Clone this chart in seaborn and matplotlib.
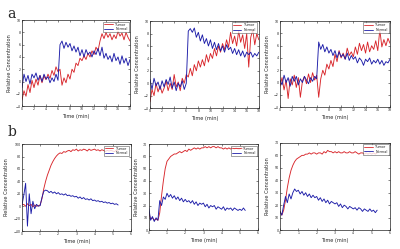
import numpy as np
import pandas as pd
import matplotlib
matplotlib.use("Agg")
import matplotlib.pyplot as plt
import seaborn as sns

# ---------------- data ----------------
# Row a: time 0..18 min (step 1/3 min)
time_a = np.round(np.arange(55) / 3.0, 3)

a1_tumor = [-3.0, -1.5, -2.4, -0.5, -1.8, 0.2, -1.0,
            0.4, -0.6, 1.0, -0.2, 0.9, 0.3,
            1.2, 0.5, 1.8, 1.0, 2.4, 1.6,
            2.0, -0.6, 0.6, -0.2, 1.2, 0.4,
            2.0, 1.5, 3.0, 2.6, 3.8, 3.4,
            4.2, 3.6, 4.6, 4.0, 5.0, 4.4,
            5.6, 5.0, 6.6, 7.8, 7.0, 8.0,
            7.2, 7.8, 6.8, 7.6, 7.0, 8.2,
            7.4, 7.9, 6.8, 8.0, 7.2, 6.6]
a1_normal = [-1.0, 1.2, 0.0, 1.0, -0.4, 1.2, 0.6,
             1.4, 0.2, 1.0, 0.0, 1.2, 0.4,
             0.8, -0.2, 0.6, 0.0, 1.2, 0.2,
             6.0, 6.6, 5.4, 6.4, 5.6, 6.2,
             5.0, 5.8, 4.8, 5.6, 4.2, 5.2,
             4.0, 5.2, 4.4, 4.8, 4.0, 5.0,
             4.4, 5.4, 4.2, 5.6, 3.8, 4.6,
             3.6, 4.2, 3.2, 4.6, 3.4, 4.0,
             2.8, 4.2, 3.0, 3.8, 2.6, 3.6]

a2_tumor = [-3.0, -1.0, -2.0, 0.0, -1.4, -0.4, -1.6,
            -0.8, 0.4, -1.2, 0.0, -1.0, 1.4,
            -0.6, 0.2, -1.2, 0.8, 0.0, 1.4,
            1.0, 2.4, 1.2, 3.0, 2.0, 3.6,
            2.6, 3.8, 2.8, 4.6, 3.4, 4.8,
            4.0, 5.6, 4.4, 6.0, 5.0, 6.4,
            5.4, 7.0, 5.8, 8.2, 6.4, 7.6,
            6.0, 8.4, 6.6, 7.8, 5.6, 8.0,
            2.6, 7.4, 8.6, 6.2, 8.0, 7.0]
a2_normal = [0.6, -1.0, 0.8, -0.4, 0.2, -1.0, 0.4,
             -0.6, 0.6, -0.2, 1.0, -0.8, 0.2,
             -1.2, 0.0, -0.6, 0.4, -1.0, 0.0,
             8.4, 8.8, 8.2, 8.9, 7.4, 8.2,
             6.8, 7.8, 6.4, 7.2, 6.0, 7.0,
             5.6, 6.6, 5.4, 6.4, 5.2, 6.0,
             5.0, 6.2, 5.4, 5.8, 4.8, 5.6,
             4.6, 5.4, 4.4, 5.2, 4.2, 5.0,
             4.6, 5.0, 4.2, 4.8, 4.4, 5.0]

a3_tumor = [-0.6, 0.8, -1.2, 0.4, -2.6, 0.6, -0.4,
            1.2, -0.8, 0.8, -2.4, 0.2, 1.0,
            -0.2, 1.4, 0.0, 1.6, 0.4, 1.2,
            -2.4, 0.6, 2.0, 1.2, 3.0, 2.2,
            3.6, 2.6, 4.6, 3.4, 5.2, 4.0,
            4.8, 3.8, 5.6, 4.4, 5.0, 4.2,
            5.8, 4.6, 6.4, 5.2, 6.2, 4.8,
            6.6, 5.0, 6.0, 5.4, 6.8, 5.2,
            8.6, 5.8, 7.0, 6.0, 7.2, 6.4]
a3_normal = [0.4, -0.4, 1.2, 0.0, 0.8, -0.6, 1.0,
             0.2, 1.0, -0.4, 0.6, 0.0, 1.0,
             0.4, -0.2, 0.8, 0.2, 1.0, 0.6,
             6.6, 5.4, 6.2, 5.0, 5.8, 4.8,
             5.4, 4.4, 5.2, 4.0, 5.0, 4.2,
             4.6, 3.8, 4.8, 3.6, 4.4, 3.8,
             4.2, 3.2, 4.0, 3.6, 2.8, 3.8,
             3.4, 4.0, 3.0, 3.6, 3.2, 3.8,
             3.0, 3.6, 2.8, 3.4, 3.2, 3.8]

# Row b: time 0..5.3 min (step 0.1 min)
time_b = np.round(np.arange(54) * 0.1, 2)

b1_tumor = [2, 3, 0, 4, 1, 3, -1, 2, 0, 1,
            2, 12, 28, 40, 50, 58, 66, 72, 77, 81,
            84, 86, 85, 88, 87, 89, 90, 88, 91, 90,
            92, 89, 91, 90, 92, 91, 89, 92, 90, 91,
            92, 90, 91, 89, 91, 90, 88, 90, 89, 90,
            89, 88, 90, 89]
b1_normal = [2, 18, 37, -32, 20, -12, 8, -4, 3, 0,
             1, 14, 24, 26, 25, 22, 24, 21, 23, 20,
             22, 19, 20, 18, 20, 17, 18, 16, 17, 15,
             16, 13, 15, 12, 14, 11, 12, 10, 12, 9,
             10, 8, 9, 7, 8, 6, 7, 5, 6, 4,
             5, 3, 4, 2]

b2_tumor = [14, 9, 10, 8, 9, 8, 14, 28, 40, 50,
            56, 58, 60, 61, 62, 62, 63, 64, 63, 64,
            65, 64, 66, 65, 66, 67, 66, 67, 66, 67,
            67, 68, 67, 68, 67, 68, 68, 67, 68, 67,
            67, 66, 67, 66, 67, 66, 67, 66, 67, 66,
            66, 67, 66, 67]
b2_normal = [18, 8, 11, 7, 10, 8, 24, 20, 27, 25,
             30, 27, 29, 26, 28, 25, 27, 24, 26, 23,
             25, 23, 24, 22, 24, 21, 23, 20, 22, 21,
             22, 19, 21, 18, 20, 19, 20, 17, 19, 18,
             17, 19, 16, 18, 17, 18, 16, 18, 17, 16,
             17, 16, 18, 16]

b3_tumor = [15, 12, 16, 24, 34, 42, 48, 52, 55, 57,
            58, 59, 60, 60, 61, 61, 62, 61, 62, 62,
            61, 62, 62, 61, 63, 62, 64, 63, 63, 62,
            63, 62, 63, 62, 62, 63, 62, 62, 63, 62,
            62, 63, 62, 61, 62, 62, 61, 62, 61, 62,
            61, 62, 61, 62]
b3_normal = [15, 12, 20, 27, 22, 29, 25, 30, 33, 31,
             32, 29, 31, 28, 30, 27, 29, 26, 28, 26,
             27, 24, 26, 23, 25, 22, 24, 21, 23, 22,
             21, 22, 19, 21, 18, 20, 19, 17, 19, 18,
             17, 18, 16, 18, 17, 15, 17, 16, 15, 17,
             15, 16, 14, 16]

series_names = ["Tumor", "Normal"]
xticks_a = list(range(0, 19, 2))
yticks_a = list(range(-4, 11, 2))
xticks_b = list(range(0, 7))
yticks_b1 = list(range(-40, 101, 20))
yticks_b23 = list(range(0, 71, 10))

# ---------------- style ----------------
sns.set_theme(style="ticks")
plt.rcParams["font.family"] = ["DejaVu Sans"]
palette = {"Tumor": "#d8262b", "Normal": "#1c1ca8"}

fig = plt.figure(figsize=(4.0, 2.49), dpi=100)

positions = {
    "a1": [0.055, 0.574, 0.270, 0.345],
    "a2": [0.375, 0.566, 0.272, 0.349],
    "a3": [0.700, 0.570, 0.275, 0.345],
    "b1": [0.055, 0.072, 0.272, 0.349],
    "b2": [0.372, 0.076, 0.273, 0.345],
    "b3": [0.700, 0.076, 0.275, 0.350],
}

panels = [
    ("a1", time_a, a1_tumor, a1_normal, (0, 18), (-4, 10), xticks_a, yticks_a),
    ("a2", time_a, a2_tumor, a2_normal, (0, 18), (-4, 10), xticks_a, yticks_a),
    ("a3", time_a, a3_tumor, a3_normal, (0, 18), (-4, 10), xticks_a, yticks_a),
    ("b1", time_b, b1_tumor, b1_normal, (0, 6), (-40, 100), xticks_b, yticks_b1),
    ("b2", time_b, b2_tumor, b2_normal, (0, 6), (0, 70), xticks_b, yticks_b23),
    ("b3", time_b, b3_tumor, b3_normal, (0, 6), (0, 70), xticks_b, yticks_b23),
]

for key, t, tum, nor, xl, yl, xt, yt in panels:
    ax = fig.add_axes(positions[key])
    df = pd.DataFrame({
        "Time": np.concatenate([t, t]),
        "Value": np.concatenate([tum, nor]),
        "Tissue": [series_names[0]] * len(t) + [series_names[1]] * len(t),
    })
    sns.lineplot(data=df, x="Time", y="Value", hue="Tissue",
                 hue_order=series_names, palette=palette,
                 linewidth=0.65, ax=ax, legend=True)
    ax.set_xlim(*xl)
    ax.set_ylim(*yl)
    ax.set_xticks(xt)
    ax.set_yticks(yt)
    ax.tick_params(labelsize=2.3, length=1.2, width=0.4, pad=1,
                   direction="in", top=True, right=True)
    for sp in ax.spines.values():
        sp.set_linewidth(0.5)
        sp.set_color("#222222")
    ax.set_xlabel("Time (min)", fontsize=3.6, labelpad=2)
    ax.set_ylabel("Relative Concentration", fontsize=3.6, labelpad=3)
    leg = ax.legend(loc="upper right", fontsize=2.4, frameon=True,
                    fancybox=False, borderpad=0.3, handlelength=2.5,
                    labelspacing=0.1, borderaxespad=0.4)
    leg.get_frame().set_linewidth(0.4)
    leg.get_frame().set_edgecolor("#333333")
    for line in leg.get_lines():
        line.set_linewidth(0.6)

fig.text(0.018, 0.945, "a", fontsize=10, family="DejaVu Serif", va="center")
fig.text(0.018, 0.47, "b", fontsize=10, family="DejaVu Serif", va="center")

fig.savefig("out.png", dpi=100)
